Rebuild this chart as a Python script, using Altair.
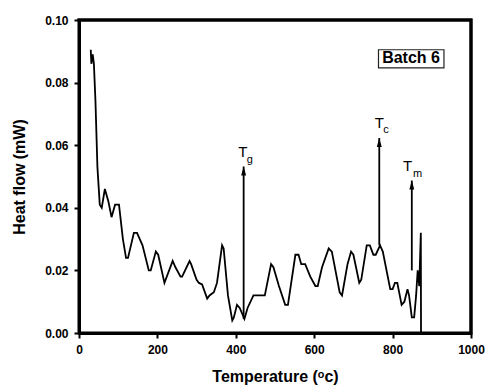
import altair as alt
import pandas as pd

# DSC curve
temps = [30, 31.5, 35, 38, 42, 47, 53, 58, 66, 75, 83, 92, 102, 112, 120, 125, 140, 148, 162, 178, 183,
         196, 202, 218, 239, 246, 259, 263, 282, 286, 300, 306, 314, 327, 333, 344, 352, 365, 369, 380,
         391, 395, 403, 410, 422, 430, 445, 474, 490, 496, 510, 526, 533, 552, 560, 567, 577, 590, 603,
         609, 620, 637, 645, 665, 671, 685, 694, 700, 715, 720, 734, 742, 751, 757, 768, 775, 794, 800,
         806, 812, 823, 830, 838, 842, 849, 855, 860, 864, 868, 872, 872.5]
heat = [0.0905, 0.0860, 0.0890, 0.0860, 0.0740, 0.0530, 0.0410, 0.0400, 0.0460, 0.0420, 0.0370, 0.0410,
        0.0410, 0.0300, 0.0240, 0.0240, 0.0320, 0.0320, 0.0280, 0.0200, 0.0200, 0.0260, 0.0250, 0.0160,
        0.0230, 0.0210, 0.0180, 0.0180, 0.0230, 0.0220, 0.0170, 0.0160, 0.0155, 0.0110, 0.0120, 0.0130,
        0.0160, 0.0280, 0.0270, 0.0120, 0.0040, 0.0050, 0.0090, 0.0080, 0.0045, 0.0080, 0.0120, 0.0120,
        0.0220, 0.0210, 0.0150, 0.0090, 0.0090, 0.0250, 0.0250, 0.0220, 0.0220, 0.0180, 0.0150, 0.0150,
        0.0210, 0.0270, 0.0260, 0.0130, 0.0120, 0.0220, 0.0260, 0.0250, 0.0160, 0.0170, 0.0280, 0.0280,
        0.0250, 0.0250, 0.0280, 0.0260, 0.0140, 0.0140, 0.0160, 0.0160, 0.0090, 0.0100, 0.0140, 0.0120,
        0.0050, 0.0050, 0.0120, 0.0200, 0.0150, 0.0320, 0.0000]

# Arrow annotations (T_g, T_c, T_m)
ann_names = ["g", "c", "m"]
ann_x = [420, 766, 849]
ann_base = [0.0045, 0.0280, 0.0200]
ann_tip = [0.0532, 0.0623, 0.0487]
lab_t_x = [418, 766, 838]
lab_t_y = [0.0561, 0.0654, 0.0519]
lab_s_x = [436, 783, 864]
lab_s_y = [0.0543, 0.0640, 0.0500]

# plot frame corners (axis limits)
frame_x = [0, 0, 1000, 1000]
frame_y = [0.1, 0.1, 0.1, 0.0]

curve = pd.DataFrame({"t": temps, "h": heat, "i": range(len(temps))})
ann = pd.DataFrame({
    "sub": ann_names, "x": ann_x, "base": ann_base, "tip": ann_tip,
    "head": [v - 0.00144 for v in ann_tip], "T": ["T"] * 3,
    "tx": lab_t_x, "ty": lab_t_y, "sx": lab_s_x, "sy": lab_s_y,
})
frame_df = pd.DataFrame({"fx": frame_x, "fy": frame_y, "k": range(len(frame_x))})

FONT = "Liberation Sans"
xs = alt.Scale(domain=[0, 1000], nice=False)
ys = alt.Scale(domain=[0, 0.1], nice=False)

xaxis = alt.Axis(
    values=list(range(0, 1001, 100)), format="d", labelFlush=False,
    labelExpr="datum.value % 200 === 0 ? datum.label : ''",
    tickSize={"condition": {"test": "datum.value % 200 === 0", "value": 5}, "value": 3},
    title="Temperature (\u1d52c)", titleY=48, titleBaseline="alphabetic",
)
yaxis = alt.Axis(
    values=[round(v * 0.01, 2) for v in range(11)], format=".2f", labelFlush=False,
    labelExpr="round(datum.value * 100) % 2 === 0 ? datum.label : ''",
    tickSize={"condition": {"test": "round(datum.value * 100) % 2 === 0", "value": 5}, "value": 3},
    title="Heat flow (mW)", titleX=-60, titleBaseline="middle",
)

line = alt.Chart(curve).mark_line(color="black", strokeWidth=1.8).encode(
    x=alt.X("t:Q", scale=xs, axis=xaxis),
    y=alt.Y("h:Q", scale=ys, axis=yaxis),
    order="i:Q",
)

# top and right frame edges drawn as a polyline through the axis limits
frame = alt.Chart(frame_df).mark_line(color="black", strokeWidth=3, clip=False,
                                      strokeCap="square").encode(
    x=alt.X("fx:Q", scale=xs), y=alt.Y("fy:Q", scale=ys), order="k:Q"
)

base = alt.Chart(ann)
arrows = base.mark_rule(color="black", strokeWidth=1.8).encode(
    x=alt.X("x:Q", scale=xs), y=alt.Y("base:Q", scale=ys), y2="tip:Q"
)
heads = base.mark_point(shape="M0,-1L0.55,1L-0.55,1Z", filled=True, color="black",
                        opacity=1, size=81).encode(
    x=alt.X("x:Q", scale=xs), y=alt.Y("head:Q", scale=ys)
)
tlabels = base.mark_text(font=FONT, fontSize=15, color="black", align="center",
                         baseline="alphabetic").encode(
    x=alt.X("tx:Q", scale=xs), y=alt.Y("ty:Q", scale=ys), text="T:N"
)
sublabels = base.mark_text(font=FONT, fontSize=11, color="black", align="center",
                           baseline="alphabetic").encode(
    x=alt.X("sx:Q", scale=xs), y=alt.Y("sy:Q", scale=ys), text="sub:N"
)

one = pd.DataFrame({"a": [0]})
box = alt.Chart(one).mark_rect(
    fill="white", stroke="#222222", strokeWidth=1.2
).encode(
    x=alt.datum(764, scale=xs), x2=alt.datum(931),
    y=alt.datum(0.0905, scale=ys), y2=alt.datum(0.0847),
)
boxtext = alt.Chart(one).mark_text(
    font=FONT, fontSize=16, fontWeight="bold", color="black", align="center", baseline="middle"
).encode(
    x=alt.datum(847, scale=xs), y=alt.datum(0.0877, scale=ys), text=alt.value("Batch 6")
)

chart = alt.layer(line, frame, arrows, heads, tlabels, sublabels, box, boxtext).properties(
    width=392, height=313,
    autosize=alt.AutoSizeParams(type="none"),
    padding={"left": 79, "top": 20, "right": 14, "bottom": 52},
).configure_view(
    stroke="black", strokeWidth=3
).configure_axis(
    labelFont=FONT, labelFontSize=12, labelFontWeight="bold", labelColor="black",
    titleFont=FONT, titleFontSize=16, titleFontWeight="bold", titleColor="black",
    domainColor="black", domainWidth=3, tickColor="black", tickWidth=2,
    grid=False,
).configure_axisX(labelPadding=6).configure_axisY(labelPadding=6)

chart.save("out.html", embed_options={"renderer": "svg", "actions": False})
